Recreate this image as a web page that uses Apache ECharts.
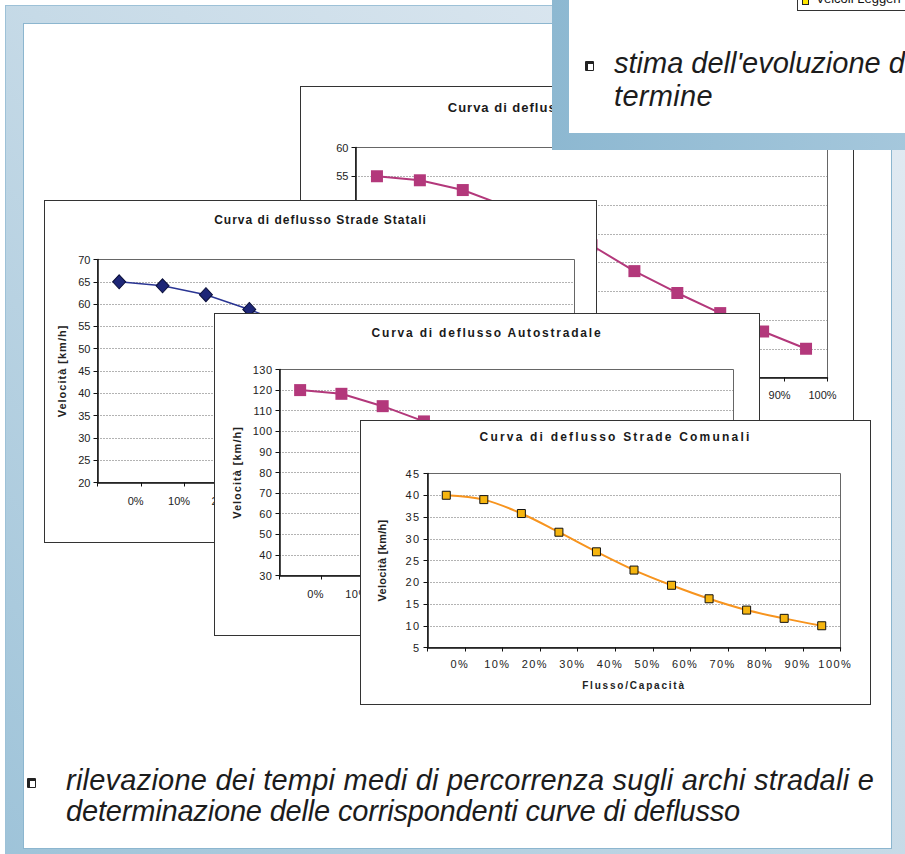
<!DOCTYPE html>
<html><head><meta charset="utf-8">
<script src="https://cdn.jsdelivr.net/npm/echarts@6/dist/echarts.min.js"></script>
<style>
html,body{margin:0;padding:0;background:#fff;width:905px;height:854px;overflow:hidden;position:relative;}
.abs{position:absolute;}
#frame{left:5px;top:5px;width:940px;height:900px;background:linear-gradient(45deg,#9cc2d8 0%,#c6dae7 50%,#e6edf4 100%);border:1px solid #9dc1d7;box-sizing:border-box;}
#inner{left:23px;top:23px;width:869px;height:826px;background:#fff;border:1px solid #8cb6cf;box-sizing:border-box;}
.box{position:absolute;background:#fff;border:1.5px solid #333;box-sizing:border-box;}
.box > div{position:absolute;left:0;top:0;right:0;bottom:0;}
.txt{position:absolute;font-family:"Liberation Sans",Arial,sans-serif;font-style:italic;font-size:29px;line-height:29px;color:#1c1c1c;white-space:nowrap;}
.bul{position:absolute;width:9px;height:10px;box-sizing:border-box;border:1px solid #222;border-top:3px solid #222;border-left:3px solid #222;background:#fff;border-radius:1px;}
#panel{left:552px;top:-30px;width:400px;height:180px;background:linear-gradient(to right,#8db8d1,#a8c9dd);}
#panelIn{left:569px;top:-30px;width:400px;height:163px;background:#fff;}
</style></head>
<body>
<div id="frame" class="abs"></div>
<div id="inner" class="abs"></div>

<div class="box" style="left:300px;top:86px;width:554px;height:344px;"><div id="cA"></div></div>
<div class="box" style="left:44px;top:200px;width:553px;height:343px;"><div id="cS"></div></div>
<div class="box" style="left:214px;top:313px;width:546px;height:323px;"><div id="cAu"></div></div>
<div class="box" style="left:360px;top:420px;width:511px;height:285px;"><div id="cC"></div></div>

<div id="panel" class="abs"></div>
<div id="panelIn" class="abs"></div>
<div class="abs" style="left:797px;top:-14px;width:160px;height:25px;border:1px solid #333;background:#fff;box-sizing:border-box;"></div>
<div class="abs" style="left:802px;top:-3px;width:7px;height:8px;background:#FFE600;border:1px solid #222;box-sizing:border-box;"></div>
<div class="abs" style="left:816px;top:-8px;font-family:'Liberation Sans';font-size:13px;line-height:13px;color:#111;white-space:nowrap;">Veicoli Leggeri</div>

<div class="bul" style="left:585px;top:61px;"></div>
<div class="txt" style="left:614px;top:49px;">stima dell'evoluzione della domanda di mobilità nel medio e lungo</div>
<div class="txt" style="left:614px;top:82px;" data-w="99">termine</div>

<div class="bul" style="left:27px;top:778px;"></div>
<div class="txt" style="left:66px;top:766px;" data-w="808">rilevazione dei tempi medi di percorrenza sugli archi stradali e</div>
<div class="txt" style="left:66px;top:797px;" data-w="674">determinazione delle corrispondenti curve di deflusso</div>

<script>
// ---- data ----
const tickLabels = ['0%','10%','20%','30%','40%','50%','60%','70%','80%','90%','100%'];
const provincialiSpeed  = [55, 54.3, 52.6, 49.8, 46.5, 43, 38.5, 34.7, 31.2, 28, 25];
const stataliSpeed      = [65, 64.1, 62.1, 58.8, 55, 51, 47, 43, 39.5, 36.5, 34];
const autostradaleSpeed = [120, 118.2, 112.2, 104.8, 96, 87, 78, 70, 63, 57, 52];
const comunaliSpeed     = [40, 39, 35.8, 31.5, 27, 22.8, 19.3, 16.2, 13.6, 11.7, 10];
const titleProvinciali  = 'Curva di deflusso Strade Provinciali';
const titleStatali      = 'Curva di deflusso Strade Statali';
const titleAutostradale = 'Curva di deflusso Autostradale';
const titleComunali     = 'Curva di deflusso Strade Comunali';
const xName = 'Flusso/Capacità';
const yName = 'Velocità [km/h]';

const FONT = 'Liberation Sans';

function makeOption(c) {
  return {
    animation: false,
    title: { text: c.title, left: 'center', top: c.titleTop, padding: 0,
      textStyle: { fontFamily: FONT, fontSize: c.titleSize, fontWeight: 'bold', color: '#1a1a1a' } },
    grid: { left: c.grid[0], top: c.grid[1], right: c.grid[2], bottom: c.grid[3],
      show: true, borderColor: '#666', borderWidth: 1, containLabel: false },
    xAxis: { type: 'category', data: tickLabels, boundaryGap: true,
      axisLine: { lineStyle: { color: '#111', width: 1.5 } },
      axisTick: { show: true, length: 4, lineStyle: { color: '#111', width: 1 } },
      axisLabel: { interval: 0, margin: c.xMargin, padding: [0, 0, 0, c.shift],
        fontFamily: FONT, fontSize: 11, color: '#222' },
      splitLine: { show: false },
      name: xName, nameLocation: 'middle', nameGap: c.xNameGap,
      nameTextStyle: { fontFamily: FONT, fontSize: 10, fontWeight: 'bold', color: '#222' } },
    yAxis: { type: 'value', min: c.min, max: c.max, interval: c.step,
      axisLine: { show: true, lineStyle: { color: '#111', width: 1.5 } },
      axisTick: { show: true, length: 4, lineStyle: { color: '#111' } },
      axisLabel: { margin: 7, fontFamily: FONT, fontSize: 11, color: '#222' },
      splitLine: { show: true, showMinLine: false, showMaxLine: false,
        lineStyle: { type: [1, 2], color: '#666', width: 1 } },
      name: yName, nameLocation: 'middle', nameGap: c.yNameGap,
      nameTextStyle: { fontFamily: FONT, fontSize: 11, fontWeight: 'bold', color: '#222' } },
    series: [{ type: 'line', data: c.data, symbol: c.symbol, symbolSize: c.symbolSize,
      smooth: c.smooth || false, z: 3,
      lineStyle: { color: c.lineColor, width: c.lineWidth },
      itemStyle: { color: c.fill, borderColor: c.border, borderWidth: c.borderWidth, opacity: 1 },
      emphasis: { disabled: true } }]
  };
}

function space(el, map, def) {
  el.querySelectorAll('text').forEach(t => {
    const k = t.textContent;
    const v = (k in map) ? map[k] : def;
    if (v) t.style.letterSpacing = v + 'px';
  });
}

function build(id, cfg, spMap, spDef) {
  const el = document.getElementById(id);
  const ch = echarts.init(el, null, { renderer: 'svg' });
  ch.setOption(makeOption(cfg));
  space(el, spMap, spDef);
  ch.on('finished', () => space(el, spMap, spDef));
}

const magenta = '#B3387B';

build('cA', { title: titleProvinciali, titleSize: 13, titleTop: 14,
  grid: [54.5, 60.5, 25.5, 51.5], min: 20, max: 60, step: 5,
  xMargin: 12, shift: 33, xNameGap: 33, yNameGap: 30,
  data: provincialiSpeed, symbol: 'rect', symbolSize: 12,
  lineColor: magenta, lineWidth: 2, fill: magenta, border: magenta, borderWidth: 0 },
  { [titleProvinciali]: 1 }, 0);

build('cS', { title: titleStatali, titleSize: 12, titleTop: 13,
  grid: [52.5, 58.5, 21.5, 59.5], min: 20, max: 70, step: 5,
  xMargin: 13, shift: 33, xNameGap: 33, yNameGap: 29,
  data: stataliSpeed, symbol: 'diamond', symbolSize: [13, 14],
  lineColor: '#2A3593', lineWidth: 1.5, fill: '#1D2677', border: '#0a0f3a', borderWidth: 1 },
  { [titleStatali]: 1, [yName]: 1 }, 0);

build('cAu', { title: titleAutostradale, titleSize: 12, titleTop: 13,
  grid: [64.5, 55.5, 25.5, 59.5], min: 30, max: 130, step: 10,
  xMargin: 13, shift: 31, xNameGap: 33, yNameGap: 37,
  data: autostradaleSpeed, symbol: 'rect', symbolSize: 12,
  lineColor: magenta, lineWidth: 2, fill: magenta, border: magenta, borderWidth: 0 },
  { [titleAutostradale]: 1.8, [yName]: 1 }, 0.5);

build('cC', { title: titleComunali, titleSize: 12, titleTop: 10,
  grid: [66.5, 52.5, 29.5, 56.5], min: 5, max: 45, step: 5,
  xMargin: 11, shift: 27, xNameGap: 33, yNameGap: 40, smooth: 0.35,
  data: comunaliSpeed, symbol: 'rect', symbolSize: 8,
  lineColor: '#F7941E', lineWidth: 2, fill: '#F6B50E', border: '#111', borderWidth: 1 },
  { [titleComunali]: 2.2, [xName]: 1.8, [yName]: 0.3 }, 1.4);

// fit slide text widths
document.querySelectorAll('.txt[data-w]').forEach(d => {
  const target = +d.dataset.w;
  const w = d.getBoundingClientRect().width;
  const n = d.textContent.length;
  d.style.letterSpacing = ((target - w) / n) + 'px';
});
</script>
</body></html>
